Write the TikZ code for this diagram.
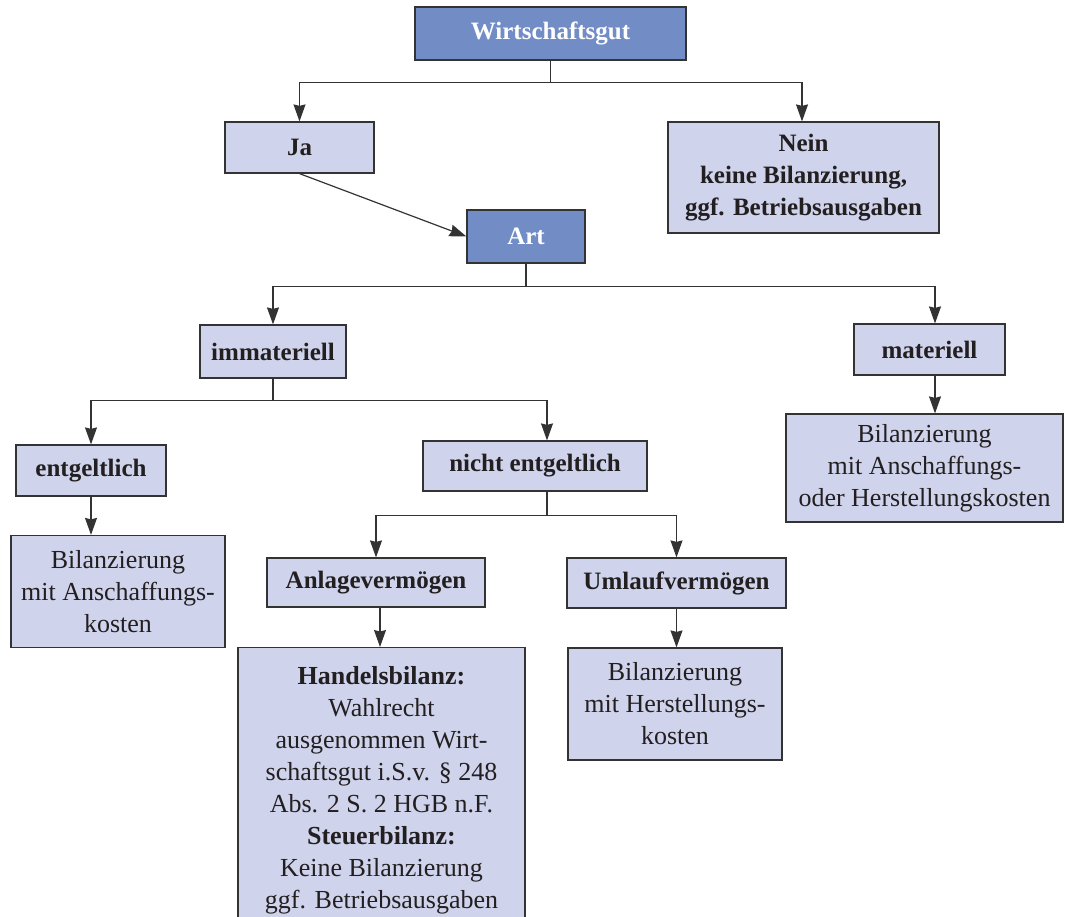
\documentclass[tikz,border=0pt]{standalone}
\usepackage{fontspec}
\setmainfont{Liberation Serif}
\usetikzlibrary{arrows.meta}
\definecolor{kopf}{RGB}{114,140,197}
\definecolor{feld}{RGB}{207,212,236}
\definecolor{rand}{RGB}{51,51,51}
\definecolor{schrift}{RGB}{35,31,32}

\begin{document}
\begin{tikzpicture}[x=1pt,y=-1pt,
	kasten/.style={draw=rand,line width=1.2pt,fill=feld,text=schrift,align=center,inner sep=4pt,font=\fontsize{26}{32}\selectfont},
	fett/.style={kasten,font=\bfseries\fontsize{25}{32}\selectfont},
	titel/.style={fett,fill=kopf,text=white},
	pfeil/.style={draw=rand,line width=1.2pt,-{Stealth[length=17pt,width=12pt,inset=1.5pt]}}]
						\useasboundingbox (0,0) rectangle (1065,916);
						\node[titel,minimum width=271,minimum height=53] (wg) at (550.5,33.5) {Wirtschaftsgut};
						\node[fett,minimum width=149,minimum height=51] (ja) at (299.5,147.5) {Ja};
						\node[fett,minimum width=271,minimum height=111] (nein) at (803.5,177.5) {Nein\\ keine Bilanzierung,\\ ggf. Betriebsausgaben};
						\node[titel,minimum width=118,minimum height=53] (art) at (526,236.5) {Art};
						\node[fett,minimum width=146,minimum height=53] (imm) at (273,351.5) {immateriell};
						\node[fett,minimum width=151,minimum height=51] (mat) at (929.5,349.5) {materiell};
						\node[kasten,minimum width=277,minimum height=108] (matbox) at (924.5,468) {Bilanzierung\\ mit Anschaffungs-\\ oder Herstellungskosten};
						\node[fett,minimum width=150,minimum height=51] (ent) at (91,470.5) {entgeltlich};
						\node[fett,minimum width=224,minimum height=50] (nent) at (535,466) {nicht entgeltlich};
						\node[kasten,minimum width=214,minimum height=112] (entbox) at (118,591.5) {Bilanzierung\\ mit Anschaffungs-\\ kosten};
						\node[fett,minimum width=218,minimum height=49] (anl) at (376,582.5) {Anlagevermögen};
						\node[fett,minimum width=219,minimum height=50] (uml) at (676.5,583) {Umlaufvermögen};
						\node[kasten,anchor=north,minimum width=287,minimum height=285] (anlbox) at (381.5,647) {\textbf{Handelsbilanz:}\\ Wahlrecht\\ ausgenommen Wirt-\\ schaftsgut i.S.v. \S\ 248\\ Abs. 2 S. 2 HGB n.F.\\ \textbf{Steuerbilanz:}\\ Keine Bilanzierung\\ ggf. Betriebsausgaben};
						\node[kasten,minimum width=214,minimum height=112] (umlbox) at (675,704) {Bilanzierung\\ mit Herstellungs-\\ kosten};
						\draw[pfeil] (wg.south) -- ++(0,22) -| (ja.north);
						\draw[pfeil] (wg.south) -- ++(0,22) -| ([xshift=-1.5]nein.north);
						\draw[pfeil] (ja.south) -- (art.west);
						\draw[pfeil] (art.south) -- ++(0,23) -| (imm.north);
						\draw[pfeil] (art.south) -- ++(0,23) -| ([xshift=5.5]mat.north);
						\draw[pfeil] ([xshift=5.5]mat.south) -- ([xshift=5.5]mat.south |- matbox.north);
						\draw[pfeil] (imm.south) -- ++(0,22) -| (ent.north);
						\draw[pfeil] (imm.south) -- ++(0,22) -| ([xshift=12]nent.north);
						\draw[pfeil] (ent.south) -- (ent.south |- entbox.north);
						\draw[pfeil] ([xshift=12]nent.south) -- ++(0,24) -| (anl.north);
						\draw[pfeil] ([xshift=12]nent.south) -- ++(0,24) -| (uml.north);
						\draw[pfeil] ([xshift=4]anl.south) -- ([xshift=4]anl.south |- anlbox.north);
						\draw[pfeil] (uml.south) -- (uml.south |- umlbox.north);
					\end{tikzpicture}
\end{document}
